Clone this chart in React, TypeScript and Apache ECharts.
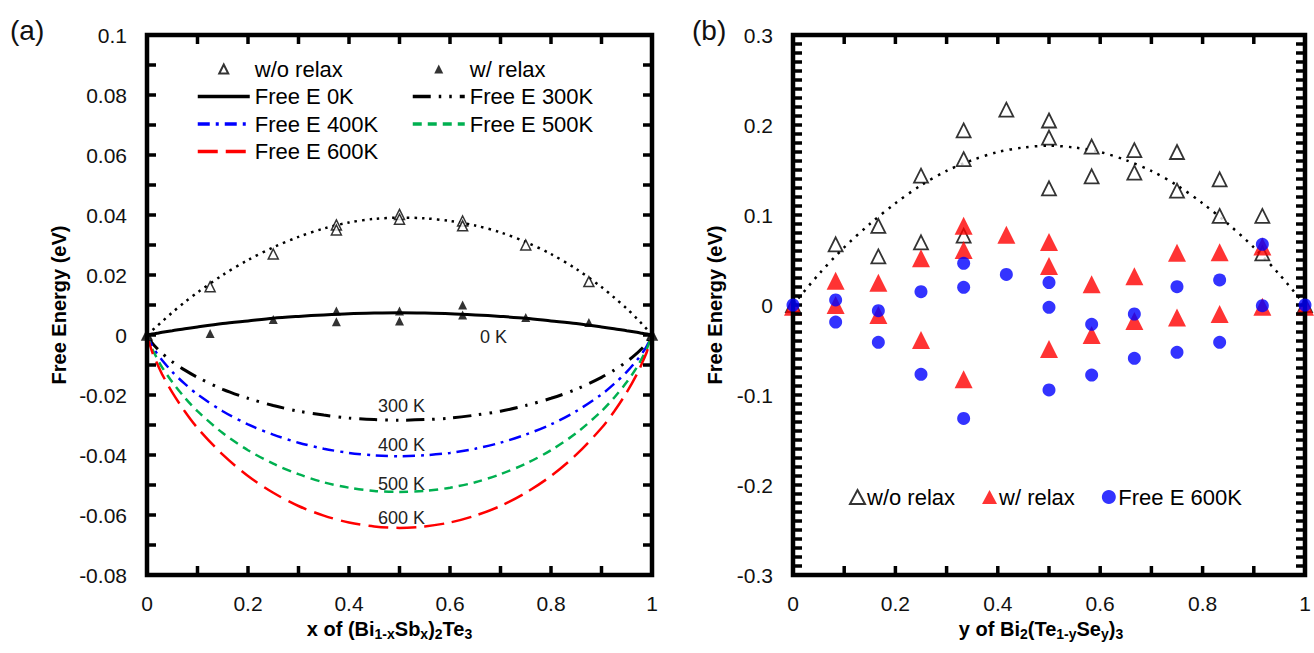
import React, { useEffect, useRef } from "react";
import * as echarts from "echarts";

const FONT = '"Liberation Sans", Arial, Helvetica, sans-serif';

// ---------- Panel (a) ----------
const curveX = [0, 0.01, 0.02, 0.03, 0.05, 0.075, 0.1, 0.15, 0.2, 0.25, 0.3, 0.35, 0.4, 0.45, 0.5, 0.55, 0.6, 0.65, 0.7, 0.75, 0.8, 0.85, 0.9, 0.925, 0.95, 0.97, 0.98, 0.99, 1];
const free0K = [0, 0.0003, 0.0006, 0.0009, 0.0014, 0.0021, 0.0027, 0.0038, 0.0047, 0.0056, 0.0062, 0.0067, 0.0071, 0.0073, 0.0074, 0.0073, 0.0071, 0.0067, 0.0062, 0.0056, 0.0047, 0.0038, 0.0027, 0.0021, 0.0014, 0.0009, 0.0006, 0.0003, 0];
const free300K = [0, -0.0026, -0.0045, -0.0061, -0.0089, -0.0117, -0.0141, -0.0181, -0.0211, -0.0235, -0.0254, -0.0267, -0.0277, -0.0282, -0.0284, -0.0282, -0.0277, -0.0267, -0.0254, -0.0235, -0.0211, -0.0181, -0.0141, -0.0117, -0.0089, -0.0061, -0.0045, -0.0026, 0];
const free400K = [0, -0.0036, -0.0062, -0.0084, -0.0123, -0.0163, -0.0198, -0.0254, -0.0298, -0.0332, -0.0359, -0.0379, -0.0393, -0.0401, -0.0404, -0.0401, -0.0393, -0.0379, -0.0359, -0.0332, -0.0298, -0.0254, -0.0198, -0.0163, -0.0123, -0.0084, -0.0062, -0.0036, 0];
const free500K = [0, -0.0045, -0.0078, -0.0108, -0.0157, -0.0209, -0.0254, -0.0327, -0.0384, -0.0429, -0.0464, -0.0491, -0.0509, -0.052, -0.0523, -0.052, -0.0509, -0.0491, -0.0464, -0.0429, -0.0384, -0.0327, -0.0254, -0.0209, -0.0157, -0.0108, -0.0078, -0.0045, 0];
const free600K = [0, -0.0055, -0.0095, -0.0131, -0.0191, -0.0255, -0.031, -0.0399, -0.047, -0.0526, -0.057, -0.0602, -0.0625, -0.0638, -0.0643, -0.0638, -0.0625, -0.0602, -0.057, -0.0526, -0.047, -0.0399, -0.031, -0.0255, -0.0191, -0.0131, -0.0095, -0.0055, 0];
const fitA = [0, 0.0015, 0.003, 0.0045, 0.0075, 0.011, 0.0142, 0.02, 0.025, 0.0292, 0.0327, 0.0355, 0.0375, 0.0387, 0.0391, 0.0389, 0.038, 0.0365, 0.0342, 0.031, 0.027, 0.022, 0.016, 0.0125, 0.0088, 0.0055, 0.0037, 0.0019, 0];

const aNoRelaxX = [0, 0.125, 0.25, 0.375, 0.375, 0.5, 0.5, 0.625, 0.625, 0.75, 0.875, 1];
const aNoRelaxY = [0, 0.0161, 0.027, 0.0367, 0.035, 0.0402, 0.0386, 0.038, 0.0364, 0.03, 0.0178, 0];
const aRelaxX = [0, 0.125, 0.25, 0.375, 0.375, 0.5, 0.5, 0.625, 0.625, 0.75, 0.875, 1];
const aRelaxY = [0, 0.0005, 0.0052, 0.008, 0.0044, 0.008, 0.0047, 0.01, 0.0067, 0.0058, 0.0042, 0];

// ---------- Panel (b) ----------
const fitBX = [0, 0.05, 0.1, 0.15, 0.2, 0.25, 0.3, 0.35, 0.4, 0.45, 0.5, 0.55, 0.6, 0.65, 0.7, 0.75, 0.8, 0.85, 0.9, 0.95, 1];
const fitBY = [0, 0.034, 0.064, 0.09, 0.113, 0.133, 0.149, 0.161, 0.17, 0.175, 0.177, 0.175, 0.17, 0.161, 0.149, 0.133, 0.113, 0.09, 0.064, 0.034, 0];

const bNoRelaxX = [0, 0.0833, 0.1667, 0.1667, 0.25, 0.25, 0.3333, 0.3333, 0.3333, 0.4167, 0.5, 0.5, 0.5, 0.5833, 0.5833, 0.6667, 0.6667, 0.75, 0.75, 0.8333, 0.8333, 0.9167, 0.9167, 1];
const bNoRelaxY = [0, 0.0674, 0.088, 0.054, 0.1437, 0.0696, 0.194, 0.162, 0.077, 0.217, 0.205, 0.186, 0.1296, 0.176, 0.143, 0.172, 0.147, 0.17, 0.127, 0.1396, 0.099, 0.099, 0.0574, 0];
const bRelaxX = [0, 0.0833, 0.0833, 0.1667, 0.1667, 0.25, 0.25, 0.3333, 0.3333, 0.3333, 0.4167, 0.5, 0.5, 0.5, 0.5833, 0.5833, 0.6667, 0.6667, 0.75, 0.75, 0.8333, 0.8333, 0.9167, 0.9167, 1];
const bRelaxY = [-0.002, 0.027, 0.0, 0.0248, -0.011, 0.052, -0.039, 0.088, 0.061, -0.0826, 0.078, 0.07, 0.0433, -0.0489, 0.023, -0.0333, 0.032, -0.0178, 0.058, -0.014, 0.0585, -0.01, 0.065, -0.002, -0.002];
const b600X = [0, 0.0833, 0.0833, 0.1667, 0.1667, 0.25, 0.25, 0.3333, 0.3333, 0.3333, 0.4167, 0.5, 0.5, 0.5, 0.5833, 0.5833, 0.6667, 0.6667, 0.75, 0.75, 0.8333, 0.8333, 0.9167, 0.9167, 1];
const b600Y = [0, 0.0056, -0.019, -0.0063, -0.0415, 0.0148, -0.077, 0.0463, 0.0196, -0.126, 0.034, 0.025, -0.0026, -0.0944, -0.0215, -0.0778, -0.01, -0.0593, 0.0204, -0.0526, 0.0278, -0.0415, 0.0674, -0.0007, 0];

const curveLabels = ["0 K", "300 K", "400 K", "500 K", "600 K"];

// axis ranges and tick steps
const axisA = { xMin: 0, xMax: 1, xStep: 0.1, yMin: -0.08, yMax: 0.1, yStep: 0.01 };
const axisB = { xMin: 0, xMax: 1, xStep: 0.1, yMin: -0.3, yMax: 0.3, yStep: 0.01 };

const zip = (xs: number[], ys: number[]) => xs.map((x, i) => [x, ys[i]]);

const xLabel = (v: number) => {
  const k = Math.round(v * 10);
  return k % 2 === 0 ? String(k / 10) : "";
};
const yLabelA = (v: number) => {
  const k = Math.round(v * 100);
  return k % 2 === 0 ? String(k / 100) : "";
};
const yLabelB = (v: number) => {
  const k = Math.round(v * 100);
  return k % 10 === 0 ? String(k / 100) : "";
};

const TRI_ICON = "path://M0,0M52,9M21.5,9L26,0L30.5,9Z";

function makeAxis(o: any) {
  const ax: any = {
    type: "value",
    gridIndex: o.gridIndex,
    position: o.position,
    min: o.min,
    max: o.max,
    interval: o.interval,
    axisLine: { show: false, onZero: false },
    axisTick: { show: false },
    splitLine: { show: false },
    axisLabel: {
      show: true,
      fontFamily: FONT,
      fontSize: 21,
      color: "#111",
      margin: o.labelMargin || 18,
      formatter: o.formatter,
    },
  };
  if (o.name) {
    ax.name = o.name;
    ax.nameLocation = "middle";
    ax.nameGap = o.nameGap;
    ax.nameTextStyle = o.nameTextStyle;
  }
  return ax;
}

// frame + inward ticks, placed through the axes' own scale (api.coord)
function frameSeries(axisIdx: number, r: any) {
  return {
    type: "custom",
    xAxisIndex: axisIdx,
    yAxisIndex: axisIdx,
    data: [[r.xMin, r.yMin]],
    clip: false,
    silent: true,
    z: 10,
    renderItem: (_p: any, api: any) => {
      const lo = api.coord([r.xMin, r.yMin]);
      const hi = api.coord([r.xMax, r.yMax]);
      const L = 9;
      const st = { stroke: "#000", lineWidth: 3.5 };
      const kids: any[] = [];
      const nx = Math.round((r.xMax - r.xMin) / r.xStep);
      for (let i = 0; i <= nx; i++) {
        const px = api.coord([r.xMin + i * r.xStep, r.yMin])[0];
        kids.push({ type: "line", shape: { x1: px, y1: lo[1], x2: px, y2: lo[1] - L }, style: st });
        kids.push({ type: "line", shape: { x1: px, y1: hi[1], x2: px, y2: hi[1] + L }, style: st });
      }
      const ny = Math.round((r.yMax - r.yMin) / r.yStep);
      for (let j = 0; j <= ny; j++) {
        const py = api.coord([r.xMin, r.yMin + j * r.yStep])[1];
        kids.push({ type: "line", shape: { x1: lo[0], y1: py, x2: lo[0] + L, y2: py }, style: st });
        kids.push({ type: "line", shape: { x1: hi[0], y1: py, x2: hi[0] - L, y2: py }, style: st });
      }
      kids.push({
        type: "rect",
        shape: { x: lo[0], y: hi[1], width: hi[0] - lo[0], height: lo[1] - hi[1] },
        style: { fill: "none", stroke: "#000", lineWidth: 4.5 },
      });
      return { type: "group", children: kids };
    },
  };
}

export default function App() {
  const ref = useRef<HTMLDivElement>(null);

  useEffect(() => {
    if (!ref.current) return;
    const chart = echarts.init(ref.current, undefined, { renderer: "svg" });

    const yNameStyle = { fontFamily: FONT, fontSize: 20, fontWeight: "bold", color: "#000" };
    const xRich = {
      t: { fontFamily: FONT, fontSize: 20, fontWeight: "bold", color: "#000", lineHeight: 24 },
      s: { fontFamily: FONT, fontSize: 14, fontWeight: "bold", color: "#000", lineHeight: 10, verticalAlign: "bottom" },
    };
    const hideSym = { itemStyle: { opacity: 0 } };
    const legendText = { fontFamily: FONT, fontSize: 22, color: "#000", lineHeight: 22 };

    const option: any = {
      animation: false,
      backgroundColor: "#fff",
      grid: [
        { left: 147, top: 35, width: 505, height: 540 },
        { left: 793, top: 35, width: 512, height: 540 },
      ],
      xAxis: [
        makeAxis({
          gridIndex: 0, position: "bottom", min: axisA.xMin, max: axisA.xMax, interval: axisA.xStep, formatter: xLabel,
          name: "{t|x of (Bi}{s|1-x}{t|Sb}{s|x}{t|)}{s|2}{t|Te}{s|3}", nameGap: 40,
          nameTextStyle: { rich: xRich, padding: [0, 20, 0, 0] },
        }),
        makeAxis({
          gridIndex: 1, position: "bottom", min: axisB.xMin, max: axisB.xMax, interval: axisB.xStep, formatter: xLabel,
          name: "{t|y of Bi}{s|2}{t|(Te}{s|1-y}{t|Se}{s|y}{t|)}{s|3}", nameGap: 40,
          nameTextStyle: { rich: xRich, padding: [0, 16, 0, 0] },
        }),
      ],
      yAxis: [
        makeAxis({
          gridIndex: 0, position: "left", min: axisA.yMin, max: axisA.yMax, interval: axisA.yStep, formatter: yLabelA, labelMargin: 20,
          name: "Free Energy (eV)", nameGap: 78, nameTextStyle: yNameStyle,
        }),
        makeAxis({
          gridIndex: 1, position: "left", min: axisB.yMin, max: axisB.yMax, interval: axisB.yStep, formatter: yLabelB, labelMargin: 20,
          name: "Free Energy (eV)", nameGap: 68, nameTextStyle: yNameStyle,
        }),
      ],
      legend: [
        {
          orient: "vertical", left: 191, top: 53, itemWidth: 52, itemHeight: 9, itemGap: 5.5,
          textStyle: legendText,
          lineStyle: { width: 3.5 },
          data: [
            { name: "w/o relax", icon: TRI_ICON },
            { name: "Free E 0K", ...hideSym },
            { name: "Free E 400K", ...hideSym },
            { name: "Free E 600K", ...hideSym },
          ],
        },
        {
          orient: "vertical", left: 406, top: 53, itemWidth: 52, itemHeight: 9, itemGap: 5.5,
          textStyle: legendText,
          lineStyle: { width: 3.5 },
          data: [
            { name: "w/ relax", icon: TRI_ICON },
            { name: "Free E 300K", ...hideSym },
            { name: "Free E 500K", ...hideSym },
          ],
        },
        {
          orient: "horizontal", left: 844, top: 481, itemWidth: 15, itemHeight: 14, itemGap: 27,
          textStyle: { ...legendText, padding: [0, 0, 0, -3] },
          data: ["w/o relax (b)", "w/ relax (b)", "Free E 600K (b)"],
          formatter: (n: string) => n.replace(" (b)", ""),
        },
      ],
      graphic: [
        { type: "text", x: 10, y: 30, style: { text: "(a)", fontFamily: FONT, fontSize: 28, fill: "#111", verticalAlign: "middle" } },
        { type: "text", x: 692, y: 30, style: { text: "(b)", fontFamily: FONT, fontSize: 28, fill: "#111", verticalAlign: "middle" } },
        { type: "text", x: 480, y: 337, style: { text: curveLabels[0], fontFamily: FONT, fontSize: 18, fill: "#222", verticalAlign: "middle" } },
        { type: "text", x: 378, y: 406, style: { text: curveLabels[1], fontFamily: FONT, fontSize: 18, fill: "#222", verticalAlign: "middle" } },
        { type: "text", x: 378, y: 445, style: { text: curveLabels[2], fontFamily: FONT, fontSize: 18, fill: "#222", verticalAlign: "middle" } },
        { type: "text", x: 378, y: 484, style: { text: curveLabels[3], fontFamily: FONT, fontSize: 18, fill: "#222", verticalAlign: "middle" } },
        { type: "text", x: 378, y: 518, style: { text: curveLabels[4], fontFamily: FONT, fontSize: 18, fill: "#222", verticalAlign: "middle" } },
      ],
      series: [
        frameSeries(0, axisA),
        frameSeries(1, axisB),
        {
          name: "fitA", type: "line", xAxisIndex: 0, yAxisIndex: 0, data: zip(curveX, fitA), smooth: 0.3,
          symbol: "none", lineStyle: { color: "#000", width: 2.5, type: [2.5, 5] }, z: 2,
        },
        {
          name: "Free E 0K", type: "line", xAxisIndex: 0, yAxisIndex: 0, data: zip(curveX, free0K), smooth: 0.3,
          symbol: "none", itemStyle: { color: "#000" }, lineStyle: { color: "#000", width: 3 }, z: 3,
        },
        {
          name: "Free E 300K", type: "line", xAxisIndex: 0, yAxisIndex: 0, data: zip(curveX, free300K), smooth: 0.3,
          symbol: "none", itemStyle: { color: "#000" }, lineStyle: { color: "#000", width: 3, type: [18, 8, 2.5, 8, 2.5, 8] }, z: 3,
        },
        {
          name: "Free E 400K", type: "line", xAxisIndex: 0, yAxisIndex: 0, data: zip(curveX, free400K), smooth: 0.3,
          symbol: "none", itemStyle: { color: "#0000FF" }, lineStyle: { color: "#0000FF", width: 2.5, type: [12, 6, 3, 6] }, z: 3,
        },
        {
          name: "Free E 500K", type: "line", xAxisIndex: 0, yAxisIndex: 0, data: zip(curveX, free500K), smooth: 0.3,
          symbol: "none", itemStyle: { color: "#00B050" }, lineStyle: { color: "#00B050", width: 2.5, type: [9, 6] }, z: 3,
        },
        {
          name: "Free E 600K", type: "line", xAxisIndex: 0, yAxisIndex: 0, data: zip(curveX, free600K), smooth: 0.3,
          symbol: "none", itemStyle: { color: "#FF0000" }, lineStyle: { color: "#FF0000", width: 2.5, type: [20, 8] }, z: 3,
        },
        {
          name: "w/o relax", type: "scatter", xAxisIndex: 0, yAxisIndex: 0, data: zip(aNoRelaxX, aNoRelaxY), clip: false,
          symbol: "triangle", symbolSize: 10, itemStyle: { color: "#fff", borderColor: "#000", borderWidth: 1.5 }, z: 4,
        },
        {
          name: "w/ relax", type: "scatter", xAxisIndex: 0, yAxisIndex: 0, data: zip(aRelaxX, aRelaxY), clip: false,
          symbol: "triangle", symbolSize: 9, itemStyle: { color: "#000" }, z: 4,
        },
        {
          name: "fitB", type: "line", xAxisIndex: 1, yAxisIndex: 1, data: zip(fitBX, fitBY), smooth: 0.3,
          symbol: "none", lineStyle: { color: "#000", width: 2.5, type: [2.5, 6] }, z: 2,
        },
        {
          name: "w/o relax (b)", type: "scatter", xAxisIndex: 1, yAxisIndex: 1, data: zip(bNoRelaxX, bNoRelaxY), clip: false,
          symbol: "triangle", symbolSize: 14, itemStyle: { color: "#fff", borderColor: "#000", borderWidth: 1.8 }, z: 4,
        },
        {
          name: "w/ relax (b)", type: "scatter", xAxisIndex: 1, yAxisIndex: 1, data: zip(bRelaxX, bRelaxY), clip: false,
          symbol: "triangle", symbolSize: 18, itemStyle: { color: "#FF0000" }, z: 5,
        },
        {
          name: "Free E 600K (b)", type: "scatter", xAxisIndex: 1, yAxisIndex: 1, data: zip(b600X, b600Y), clip: false,
          symbol: "circle", symbolSize: 13, itemStyle: { color: "#0000FF" }, z: 11,
        },
      ],
    };

    chart.setOption(option);
    return () => chart.dispose();
  }, []);

  return (
    <div
      ref={ref}
      style={{ position: "fixed", left: 0, top: 0, width: 1314, height: 653, background: "#fff" }}
    />
  );
}
